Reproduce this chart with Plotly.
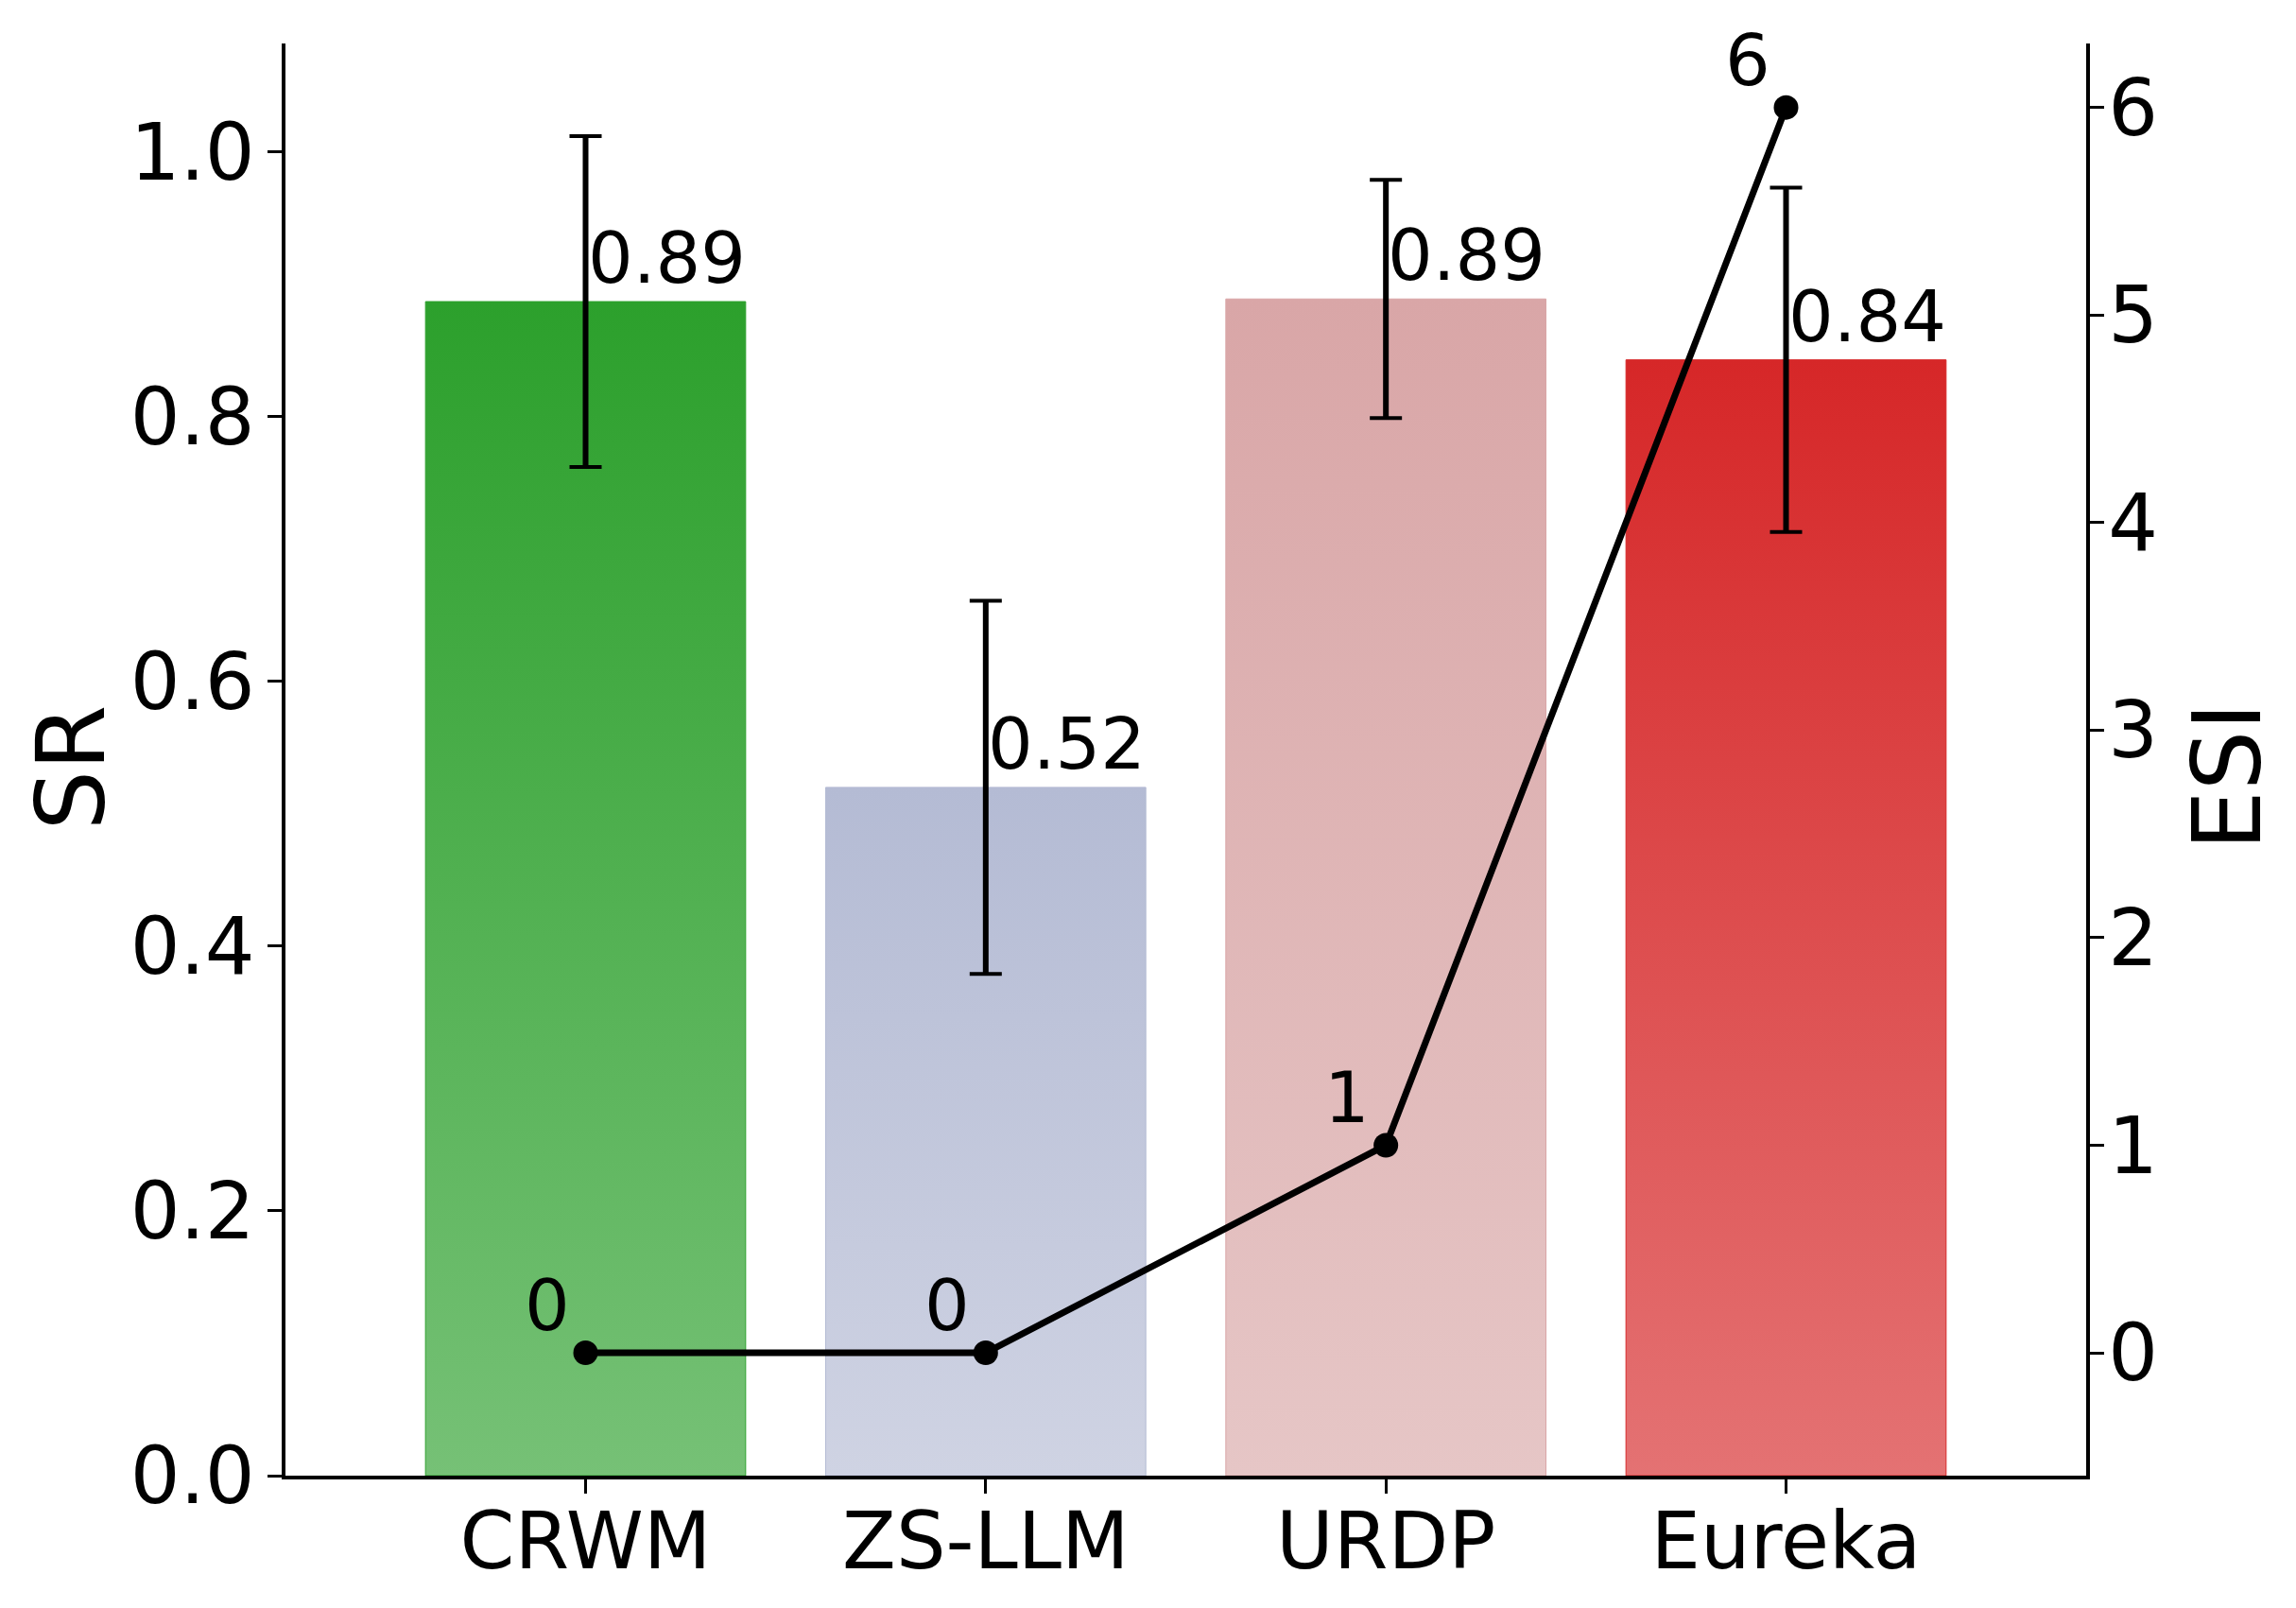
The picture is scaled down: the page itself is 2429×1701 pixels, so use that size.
import plotly.graph_objects as go

# ---- data ----
methods = ["CRWM", "ZS-LLM", "URDP", "Eureka"]
sr_values = [0.887, 0.520, 0.889, 0.843]
sr_errors = [0.125, 0.141, 0.090, 0.130]
esi_values = [0, 0, 1, 6]
sr_ticks = [0.0, 0.2, 0.4, 0.6, 0.8, 1.0]
esi_ticks = [0, 1, 2, 3, 4, 5, 6]

# bar gradient colours (top = full colour, bottom = lighter)
top_colors = ["rgb(44,160,44)", "rgb(180,187,212)", "rgb(217,166,167)", "rgb(214,39,40)"]
bottom_colors = ["rgb(118,193,118)", "rgb(207,211,227)", "rgb(230,198,198)", "rgb(228,114,115)"]

FONT = "DejaVu Sans"
BAR_W = 0.8

fig = go.Figure()

# gradient bars (polygons built from the data values)
for i, (m, h) in enumerate(zip(methods, sr_values)):
    x0, x1 = i - BAR_W / 2, i + BAR_W / 2
    fig.add_trace(go.Scatter(
        x=[x0, x1, x1, x0, x0], y=[0, 0, h, h, 0],
        mode="lines", fill="toself",
        line=dict(width=1, color=top_colors[i]),
        fillgradient=dict(type="vertical",
                          colorscale=[[0, bottom_colors[i]], [1, top_colors[i]]]),
        showlegend=False, hoverinfo="skip", name=m,
    ))

# error bars: thick stems, thinner caps
fig.add_trace(go.Scatter(
    x=list(range(len(methods))), y=sr_values, mode="markers",
    marker=dict(size=1, color="rgba(0,0,0,0)"),
    error_y=dict(type="data", array=sr_errors, visible=True,
                 color="black", thickness=4, width=17),
    showlegend=False, hoverinfo="skip",
))
fig.add_trace(go.Scatter(
    x=list(range(len(methods))), y=sr_values, mode="markers",
    marker=dict(size=1, color="rgba(0,0,0,0)"),
    error_y=dict(type="data", array=sr_errors, visible=True,
                 color="black", thickness=6, width=0),
    showlegend=False, hoverinfo="skip",
))

# ESI line on secondary axis
fig.add_trace(go.Scatter(
    x=list(range(len(methods))), y=esi_values, yaxis="y2",
    mode="lines+markers",
    line=dict(color="black", width=7),
    marker=dict(color="black", size=26),
    showlegend=False, hoverinfo="skip",
))

annotations = []
for i, h in enumerate(sr_values):
    annotations.append(dict(
        x=i, y=h, xref="x", yref="y", text=f"{h:.2f}",
        showarrow=False, xanchor="left", yanchor="bottom",
        font=dict(family=FONT, size=75, color="black"), yshift=0,
    ))
for i, v in enumerate(esi_values):
    annotations.append(dict(
        x=i, y=v, xref="x", yref="y2", text=f"{v}",
        showarrow=False, xanchor="center", yanchor="middle",
        xshift=-41, yshift=50,
        font=dict(family=FONT, size=75, color="black"),
    ))
annotations.append(dict(
    x=0, y=0.5, xref="paper", yref="paper", text="SR", textangle=-90,
    showarrow=False, xanchor="center", yanchor="middle", xshift=-227, yshift=-9,
    font=dict(family=FONT, size=100, color="black"),
))
annotations.append(dict(
    x=1, y=0.5, xref="paper", yref="paper", text="ESI", textangle=-90,
    showarrow=False, xanchor="center", yanchor="middle", xshift=149, yshift=-18,
    font=dict(family=FONT, size=100, color="black"),
))

axis_common = dict(showgrid=False, zeroline=False, showline=True, linecolor="black",
                   linewidth=3.5, ticks="outside", ticklen=15, tickwidth=3,
                   tickcolor="black", automargin=False,
                   tickfont=dict(family=FONT, size=83, color="black"))

fig.update_layout(
    width=2429, height=1701,
    margin=dict(l=302, r=222, t=46, b=140, pad=0, autoexpand=False),
    plot_bgcolor="white", paper_bgcolor="white",
    font=dict(family=FONT, color="black"),
    xaxis=dict(range=[-0.75, 3.75], tickvals=list(range(len(methods))), ticktext=methods,
               ticklabelstandoff=-20, **axis_common),
    yaxis=dict(range=[0, 1.082], tickvals=sr_ticks, ticktext=[f"{t:.1f}" for t in sr_ticks],
               ticklabelstandoff=-3, **axis_common),
    yaxis2=dict(range=[-0.592, 6.308], tickvals=esi_ticks, overlaying="y", side="right",
                anchor="x", ticklabelstandoff=-12, **axis_common),
    annotations=annotations,
    showlegend=False,
)

fig.write_html("out.html")
